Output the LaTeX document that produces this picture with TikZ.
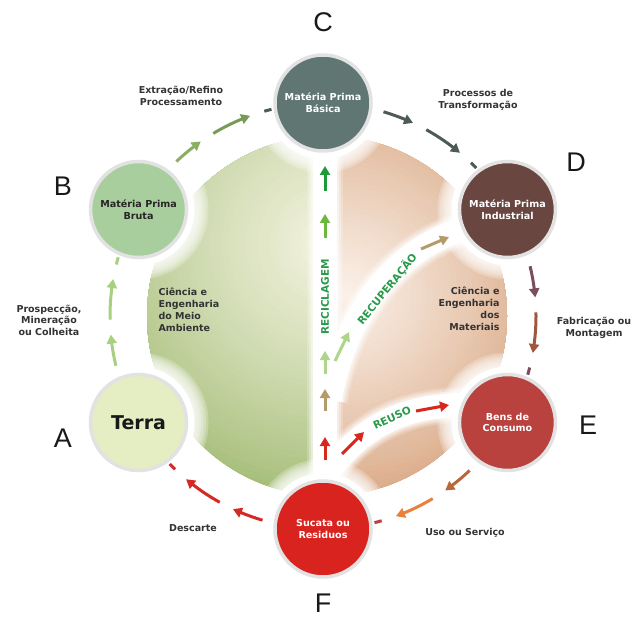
\documentclass[tikz,border=0pt]{standalone}
\usepackage{fontspec}
\setmainfont{DejaVu Sans}
\newfontfamily\letterfont{Liberation Sans}
\usetikzlibrary{arrows.meta,bending,calc}

\definecolor{cC}{HTML}{5F7673}
\definecolor{cB}{HTML}{A9CE9D}
\definecolor{cD}{HTML}{6A4640}
\definecolor{cE}{HTML}{B9423F}
\definecolor{cA}{HTML}{E5EEC2}
\definecolor{cF}{HTML}{D8231F}
\definecolor{nborder}{HTML}{E2E2E2}
\definecolor{gLight}{HTML}{F5F4E2}
\definecolor{gDark}{HTML}{9DB86E}
\definecolor{tLight}{HTML}{FBF2EA}
\definecolor{tDark}{HTML}{D49C74}
\definecolor{aAB}{HTML}{A8D07E}
\definecolor{aBC1}{HTML}{8CAE62}
\definecolor{aBC2}{HTML}{7A9A58}
\definecolor{aCD}{HTML}{4E5A56}
\definecolor{aDE1}{HTML}{7A4E5E}
\definecolor{aDE2}{HTML}{A0583C}
\definecolor{aEF1}{HTML}{B8683A}
\definecolor{aEF2}{HTML}{E8813C}
\definecolor{aFA}{HTML}{D42A25}
\definecolor{iDG}{HTML}{1F9A3A}
\definecolor{iG}{HTML}{6CB83C}
\definecolor{iLG}{HTML}{AED58A}
\definecolor{iTan}{HTML}{B59A6A}
\definecolor{iRed}{HTML}{D8281E}
\definecolor{bandtxt}{HTML}{2A9A4A}
\definecolor{txt}{HTML}{333333}

\newcommand\ringseg[4]{%
  \draw[arr,#2] ($(O)+({#1-16.5}:213)$) arc[start angle={#1-16.5}, end angle={#1-25}, radius=213];
  \draw[arr,#3] ($(O)+({#1-29}:213)$) arc[start angle={#1-29}, end angle={#1-40}, radius=213];
  \draw[dashpiece,#4] ($(O)+({#1-44}:213)$) arc[start angle={#1-44}, end angle={#1-46}, radius=213];
}
\newcommand\bandpaths[1]{%
  \draw[#1] (325,480) -- (325,130);
  \draw[#1] (330,219) .. controls (345,309) and (400,374) .. (470,392);
  \draw[#1] (330,149) .. controls (360,189) and (400,214) .. (465,214);
}

\begin{document}
\begin{tikzpicture}[x=1pt,y=1pt,
  arr/.style={line width=3pt, -{Triangle[length=9pt,width=10pt,bend]}},
  sarr/.style={line width=3pt, -{Triangle[length=9pt,width=10pt]}},
  dashpiece/.style={line width=3pt},
  nodecirc/.style={circle, minimum size=96pt, inner sep=0pt, draw=nborder, line width=3.5pt,
    align=center, text=white, font=\bfseries\fontsize{9.6}{11.8}\selectfont},
  lbl/.style={align=center, text=txt, font=\bfseries\fontsize{9.5}{11.5}\selectfont},
  sphtxt/.style={text=txt, font=\bfseries\fontsize{9.5}{12}\selectfont},
  bandlbl/.style={text=bandtxt, font=\bfseries\fontsize{10.5}{12}\selectfont},
  letter/.style={text=black!90, font=\letterfont\fontsize{27}{27}\selectfont}
]
\useasboundingbox (0,0) rectangle (634,619);
\fill[white] (0,0) rectangle (634,619);
\coordinate (O) at (323,303);
\coordinate (S) at (327,303);

% ---- sphere: left (green) half
\begin{scope}
  \clip (S) circle (180);
  \clip (100,100) rectangle (325,500);
  \foreach \i in {0,...,45}{
    \pgfmathsetmacro\rr{270*(1-\i/45)}
    \pgfmathtruncatemacro\pp{100*(\i/45)^0.8}
    \fill[gLight!\pp!gDark] (330,375) circle (\rr);
  }
\end{scope}
% ---- sphere: right (tan) half
\begin{scope}
  \clip (S) circle (180);
  \clip (325,100) rectangle (550,500);
  \foreach \i in {0,...,45}{
    \pgfmathsetmacro\rr{230*(1-\i/45)}
    \pgfmathtruncatemacro\pp{100*(\i/45)^0.8}
    \fill[tLight!\pp!tDark] (345,325) circle (\rr);
  }
\end{scope}

% ---- white bands with soft edges
\bandpaths{white, line width=36pt, opacity=0.2}
\bandpaths{white, line width=32pt, opacity=0.3}
\bandpaths{white, line width=28pt, opacity=0.45}
\bandpaths{white, line width=24pt}

% ---- node positions and soft white halos
\foreach \n/\a in {pC/90,pD/30,pE/-30,pF/-90,pA/210,pB/150}{
  \coordinate (\n) at ($(O)+(\a:213)$);
}
\foreach \n in {pC,pD,pE,pF,pA,pB}{
  \foreach \k in {0,...,5}{
    \fill[white,opacity=0.25] (\n) circle ({70-2.4*\k});
  }
  \fill[white] (\n) circle (56);
}

% ---- outer ring arrows
\ringseg{210}{aAB}{aAB}{aAB}
\ringseg{150}{aBC1}{aBC2}{aCD}
\ringseg{90}{aCD}{aCD}{aCD}
\ringseg{30}{aDE1}{aDE2}{aDE1}
\ringseg{-30}{aEF1}{aEF2}{cE}
\ringseg{-90}{aFA}{aFA}{aFA}

% ---- nodes
\node[nodecirc, fill=cC] (C) at (pC) {Matéria Prima\\Básica};
\node[nodecirc, fill=cB, text=black!85] (B) at (pB) {Matéria Prima\\Bruta};
\node[nodecirc, fill=cD] (D) at (pD) {Matéria Prima\\Industrial};
\node[nodecirc, fill=cE] (E) at (pE) {Bens de\\Consumo};
\node[nodecirc, fill=cA, text=black!90, font=\bfseries\fontsize{19}{22}\selectfont] (A) at (pA) {Terra};
\node[nodecirc, fill=cF] (F) at (pF) {Sucata ou\\Residuos};

% ---- inner arrows (vertical: reciclagem)
\coordinate (v1a) at (325,159); \coordinate (v1b) at (325,182);
\coordinate (v2a) at (325,208); \coordinate (v2b) at (325,230);
\coordinate (v3a) at (325,245); \coordinate (v3b) at (325,268);
\coordinate (v4a) at (325,381); \coordinate (v4b) at (325,405);
\coordinate (v5a) at (325,428); \coordinate (v5b) at (325,453);
\draw[sarr,iRed] (v1a) -- (v1b);
\draw[sarr,iTan] (v2a) -- (v2b);
\draw[sarr,iLG] (v3a) -- (v3b);
\draw[sarr,iG] (v4a) -- (v4b);
\draw[sarr,iDG] (v5a) -- (v5b);
% recuperacao
\coordinate (r1a) at (335,258); \coordinate (r1b) at (349,287);
\coordinate (r2a) at (421,370); \coordinate (r2b) at (449,382);
\draw[sarr,iLG] (r1a) -- (r1b);
\draw[sarr,iTan] (r2a) -- (r2b);
% reuso
\coordinate (u1a) at (342,165); \coordinate (u1b) at (364,187);
\coordinate (u2a) at (416,208); \coordinate (u2b) at (449,214);
\draw[sarr,iRed] (u1a) -- (u1b);
\draw[sarr,iRed] (u2a) -- (u2b);

% ---- band labels
\node[bandlbl, rotate=90, inner sep=1pt] (recic) at (325,322) {RECICLAGEM};
\node[bandlbl, rotate=51, inner sep=1pt] (recup) at (387,330) {RECUPERAÇÃO};
\node[bandlbl, rotate=25, inner sep=1pt] (reuso) at (392,201) {REUSO};

% ---- sphere texts
\node[sphtxt, anchor=west, align=left] (sci1) at (155,309) {Ciência e\\Engenharia\\do Meio\\Ambiente};
\node[sphtxt, anchor=east, align=right] (sci2) at (503,310) {Ciência e\\Engenharia\\dos\\Materiais};

% ---- process labels
\node[lbl] (l1) at (181,523) {Extração/Refino\\Processamento};
\node[lbl] (l2) at (478,519) {Processos de\\Transformação};
\node[lbl] (l3) at (49,299) {Prospecção,\\Mineração\\ou Colheita};
\node[lbl] (l4) at (594,291) {Fabricação ou\\Montagem};
\node[lbl] (l5) at (193,91) {Descarte};
\node[lbl] (l6) at (465,86) {Uso ou Serviço};

% ---- letters
\node[letter] (lA) at (63,181) {A};
\node[letter] (lB) at (63,433) {B};
\node[letter] (lC) at (323,597) {C};
\node[letter] (lD) at (576,457) {D};
\node[letter] (lE) at (588,194) {E};
\node[letter] (lF) at (323,16) {F};
\end{tikzpicture}
\end{document}
